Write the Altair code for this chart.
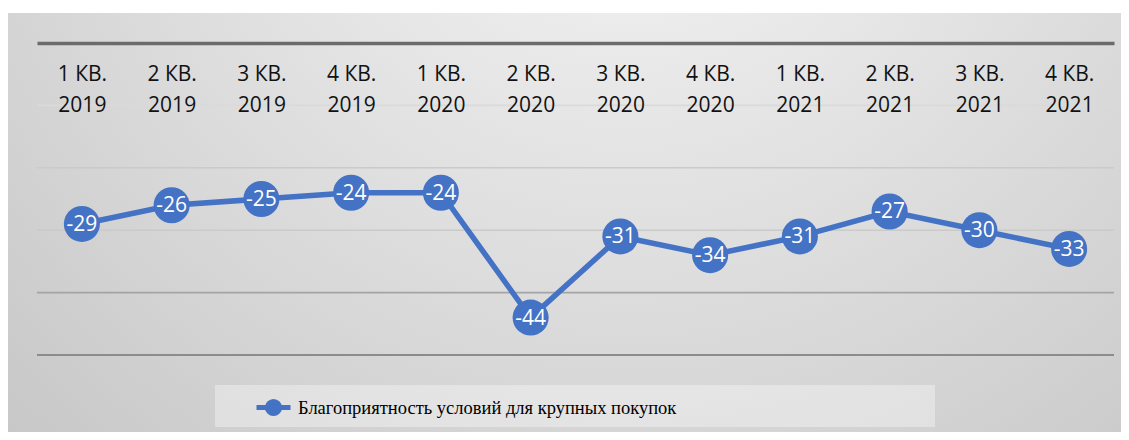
import altair as alt
import pandas as pd

quarters = ["1 КВ.", "2 КВ.", "3 КВ.", "4 КВ."] * 3
years = ["2019"] * 4 + ["2020"] * 4 + ["2021"] * 4
values = [-29, -26, -25, -24, -24, -44, -31, -34, -31, -27, -30, -33]
series_name = "Благоприятность условий для крупных покупок"
grid_values = [-10, -20, -30, -40, -50]

BLUE = "#4472C4"
W, H = 1077, 312

df = pd.DataFrame({
    "period": [f"{q} {y}" for q, y in zip(quarters, years)],
    "value": values,
    "series": [series_name] * len(values),
})
order = list(df["period"])

xscale = alt.Scale(type="point", padding=0.5)
yscale = alt.Scale(domain=[-50, 0], nice=False, zero=False)

base = alt.Chart(df)

bg = alt.Chart(pd.DataFrame({"k": [0]})).mark_rect(
    fill={
        "gradient": "radial",
        "x1": 0.55, "y1": 0.1, "r1": 0,
        "x2": 0.55, "y2": 0.1, "r2": 0.95,
        "stops": [
            {"offset": 0, "color": "#f8f8f8"},
            {"offset": 1, "color": "#bebebe"},
        ],
    },
    clip=False,
).encode(
    x=alt.value(-30), x2=alt.value(1100),
    y=alt.value(-30), y2=alt.value(420),
)

legend_bg = alt.Chart(pd.DataFrame({"k": [0]})).mark_rect(
    fill="#ffffff", fillOpacity=0.35, clip=False
).encode(
    x=alt.value(178), x2=alt.value(898),
    y=alt.value(342), y2=alt.value(384),
)

grid = alt.Chart(pd.DataFrame({"g": grid_values})).mark_rule().encode(
    y=alt.Y("g:Q", scale=yscale, axis=None),
    color={"condition": [
        {"test": "datum.g <= -50", "value": "#8c8c8c"},
        {"test": "datum.g <= -40", "value": "#a4a4a4"},
        {"test": "datum.g >= -10", "value": "#dadada"},
    ], "value": "#cacaca"},
    strokeWidth=alt.condition("datum.g <= -50", alt.value(2.2), alt.value(1.6)),
)

x_enc = alt.X(
    "period:N", sort=order, scale=xscale, title=None,
    axis=alt.Axis(
        orient="bottom", offset=-H, zindex=1, labelAngle=0, ticks=False, grid=False,
        domainColor="#6b6b6b", domainWidth=3.5,
        labelExpr="[slice(datum.label, 0, -5), slice(datum.label, -4)]",
        labelFont="Open Sans", labelFontSize=21, labelColor="#111111",
        labelLineHeight=31, labelBaseline="top", labelPadding=20,
        labelAlign="center",
    ),
)
y_enc = alt.Y("value:Q", scale=yscale, axis=None)

line = base.mark_line(strokeWidth=5.5, color=BLUE).encode(
    x=x_enc, y=y_enc,
    color=alt.Color("series:N", scale=alt.Scale(range=[BLUE]), legend=alt.Legend(
        orient="none", legendX=217, legendY=345, title=None,
        symbolType="M-1,0 L1,0 M0.36,0 A0.36,0.36 0 1,1 -0.36,0 A0.36,0.36 0 1,1 0.36,0 Z",
        symbolSize=1156, symbolStrokeWidth=5, symbolFillColor=BLUE, symbolStrokeColor=BLUE,
        labelFont="Liberation Serif", labelFontSize=18.5, labelColor="#000000",
        labelOffset=5, labelLimit=0, padding=0,
    )),
)

points = base.mark_circle(size=1300, opacity=1, color=BLUE).encode(
    x=alt.X("period:N", sort=order, scale=xscale),
    y=y_enc,
)

labels = base.transform_calculate(lbl="'' + datum.value").mark_text(
    color="white", font="Open Sans", fontSize=21, baseline="middle", align="center", dy=1
).encode(
    x=alt.X("period:N", sort=order, scale=xscale),
    y=y_enc,
    text="lbl:N",
)

chart = alt.layer(bg, legend_bg, grid, line, points, labels).properties(
    width=W, height=H,
    autosize=alt.AutoSizeParams(type="none"),
    padding={"left": 29, "top": 35, "right": 7, "bottom": 77},
).configure_view(stroke=None).configure(background="white")

chart.save("out.html", embed_options={"renderer": "svg", "actions": False})
